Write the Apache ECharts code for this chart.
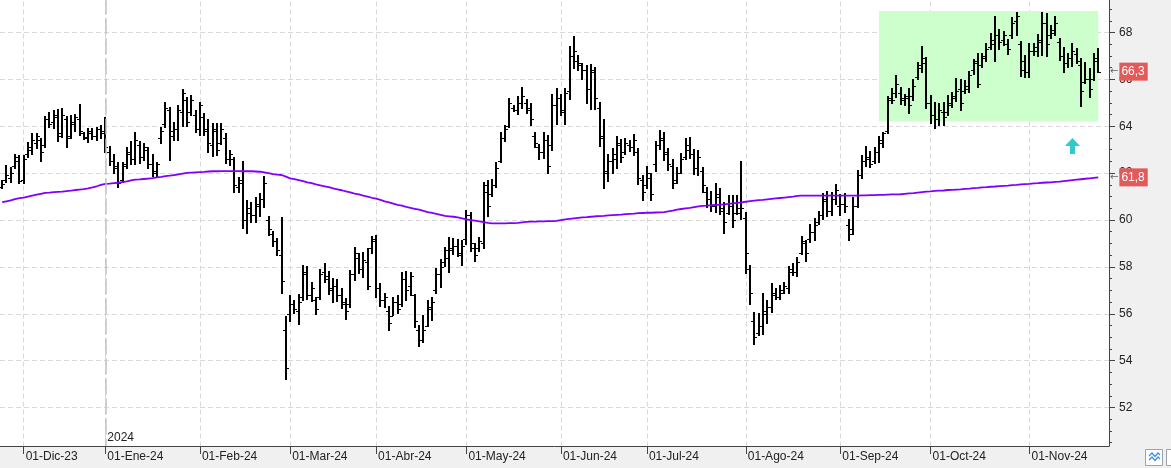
<!DOCTYPE html>
<html><head><meta charset="utf-8">
<script src="https://cdn.jsdelivr.net/npm/echarts@6/dist/echarts.min.js"></script>
<style>html,body{margin:0;padding:0;background:#fff}#c{width:1171px;height:468px}</style>
</head><body><div id="c"></div>
<script>
// ---- calendar / tick labels ----
const monthAbbr = ['Ene','Feb','Mar','Abr','May','Jun','Jul','Ago','Sep','Oct','Nov','Dic'];
const marketHolidays = ['2023-12-25','2023-12-26','2024-01-01','2024-03-29','2024-04-01','2024-05-01'];
const firstDay = '2023-11-24';
const lastDay = '2024-11-27';
const yearLabel = '2024';
const yearStart = '2024-01-02';

// ---- OHLC values (one per trading day) ----
const opens = [
61.40,61.70,61.80,62.30,62.50,61.70,62.80,63.00,63.30,63.40,
63.20,64.30,64.20,64.40,63.70,64.30,63.60,64.10,64.30,63.70,
63.50,63.70,63.60,63.90,63.80,62.90,62.50,62.20,61.70,62.40,
62.80,62.60,63.20,62.70,63.00,62.40,62.00,63.50,64.10,64.70,
63.60,63.90,64.60,65.10,64.60,64.50,63.90,64.40,63.90,63.20,
63.80,63.30,63.50,62.60,62.60,61.40,61.60,60.00,60.30,60.20,
60.60,60.90,60.00,59.40,59.10,58.50,55.30,56.00,56.40,56.10,
56.70,57.70,56.80,56.60,56.70,57.80,57.50,57.00,57.20,56.80,
56.40,56.40,57.70,58.40,57.90,58.20,58.80,59.20,57.10,56.60,
56.10,55.90,56.50,56.40,57.50,57.20,56.80,55.30,54.90,55.50,
56.20,57.00,57.70,58.20,58.40,58.70,58.90,58.50,59.20,60.20,
58.80,58.80,59.00,61.20,61.10,61.50,62.50,63.50,64.00,64.80,
64.70,65.00,65.00,64.80,63.60,63.10,62.90,63.40,63.20,64.90,
65.20,64.60,65.50,67.00,66.80,66.60,66.40,65.60,66.30,64.80,
63.50,62.00,62.50,62.60,63.20,62.90,63.20,63.10,62.90,61.70,
61.50,61.80,62.40,63.20,63.40,62.90,62.30,61.70,62.00,62.70,
63.00,62.80,62.20,62.10,61.20,60.90,60.60,61.00,60.40,60.30,
60.60,60.30,60.30,60.10,57.90,55.70,55.20,55.50,56.10,56.30,
56.90,56.70,56.90,57.10,57.90,57.80,58.60,59.00,59.20,59.50,
59.90,60.20,60.80,60.40,60.90,60.60,60.70,59.80,59.60,60.60,
61.90,62.50,62.60,62.50,62.90,63.30,63.80,65.20,65.40,65.40,
65.10,65.30,65.30,66.10,66.60,66.70,65.00,64.50,64.30,64.60,
64.60,65.00,65.20,65.60,65.50,65.70,66.40,66.80,66.60,66.90,
67.40,67.50,67.90,67.70,67.50,67.90,68.50,67.50,66.80,66.30,
67.20,67.20,67.60,68.40,67.90,68.00,67.60,67.00,66.70,66.90,
67.10,66.60,65.90,66.00,66.00,66.90];
const highs = [
61.71,62.35,62.28,62.80,62.77,62.77,63.32,63.70,63.72,63.49,
64.44,64.62,64.69,64.72,64.77,64.44,64.48,64.52,64.94,63.77,
63.94,63.94,63.98,64.05,64.38,63.16,62.80,62.49,62.49,63.13,
63.37,63.76,63.37,63.27,63.13,62.82,62.49,63.98,65.02,64.81,
64.19,64.91,65.58,65.26,65.33,64.69,65.05,64.58,64.30,64.13,
64.15,64.15,63.70,62.99,62.70,61.85,62.50,60.85,60.78,60.99,
61.17,61.89,60.17,59.54,59.25,60.14,55.91,56.80,56.59,56.83,
58.07,58.04,57.34,56.73,57.90,58.15,57.84,57.51,57.48,57.09,
56.66,57.87,58.84,58.58,58.65,58.79,59.32,59.36,57.32,56.90,
56.33,56.73,56.80,57.80,57.84,57.80,56.83,55.52,55.95,56.59,
56.70,57.94,58.32,58.86,59.26,59.22,59.18,59.15,60.43,60.36,
59.01,59.29,61.61,61.71,61.74,62.49,63.77,64.04,65.19,64.91,
65.29,65.69,65.15,65.00,63.74,63.24,63.77,63.61,65.38,65.62,
65.38,65.62,67.42,67.85,67.04,66.71,66.61,66.64,66.54,65.05,
64.30,62.82,63.09,63.59,63.44,63.49,63.41,63.67,63.06,61.92,
62.30,61.99,63.39,63.84,63.77,63.06,62.59,62.28,62.85,63.49,
63.55,63.02,62.99,62.28,61.42,61.25,61.57,61.38,60.78,61.07,
61.07,61.07,62.53,60.36,58.08,56.09,56.02,56.90,56.59,57.32,
57.09,57.23,57.37,58.04,58.18,58.44,59.32,59.15,59.83,60.07,
60.39,61.17,61.25,61.18,61.54,61.11,61.14,60.03,60.97,62.13,
62.77,63.16,62.96,63.13,63.59,63.77,65.29,65.62,66.19,65.66,
65.38,65.62,66.00,66.76,67.42,66.97,65.33,65.05,64.98,65.05,
65.33,65.47,66.05,66.00,65.97,66.37,66.86,67.14,67.14,67.56,
67.97,68.70,68.14,68.08,67.71,68.67,68.89,67.65,67.04,67.56,
67.56,67.94,68.89,68.82,68.32,68.70,67.75,67.37,67.11,67.56,
67.33,66.90,66.76,66.47,67.14,67.35];
const lows = [
61.35,61.64,61.64,62.21,61.57,61.57,62.70,62.82,63.09,62.53,
63.13,63.98,63.91,63.38,63.55,63.10,63.49,63.81,63.63,63.44,
63.34,63.44,63.41,63.49,62.91,62.34,62.02,61.42,61.64,62.21,
62.39,62.38,62.42,62.56,62.21,61.89,61.85,63.30,63.96,62.56,
63.41,63.41,64.01,64.01,64.48,63.74,63.61,63.64,62.91,62.73,
62.77,63.24,62.42,62.35,61.21,61.21,59.65,59.46,59.93,59.93,
60.17,60.54,59.36,58.89,58.51,56.90,53.22,55.71,56.05,55.56,
56.59,56.63,56.56,55.98,56.63,57.37,56.83,56.52,56.56,56.23,
55.76,56.30,57.44,57.75,57.56,57.06,58.61,56.73,56.33,56.27,
55.31,55.95,56.05,56.33,56.59,56.80,55.45,54.64,54.81,55.48,
55.73,56.90,57.13,58.04,57.80,58.54,58.47,58.08,58.98,58.69,
58.26,58.69,58.81,60.17,61.02,61.42,62.49,63.39,63.96,64.66,
64.52,64.77,64.58,64.05,63.10,62.60,62.63,61.99,62.99,64.08,
64.48,64.10,65.16,66.47,66.40,66.02,64.98,64.72,64.72,63.16,
61.35,61.68,62.02,62.21,62.49,62.82,62.96,62.77,61.54,60.85,
61.35,60.85,62.10,63.02,62.56,62.13,61.35,61.59,61.99,62.59,
62.63,61.96,61.92,61.21,60.57,60.39,60.36,60.26,59.43,60.26,
59.72,60.26,60.03,57.75,56.42,54.71,55.09,55.12,55.62,56.09,
56.62,56.62,56.87,56.90,57.65,57.61,58.55,58.26,59.07,59.15,
59.83,60.03,60.17,60.21,60.68,60.21,60.35,59.15,59.40,60.54,
61.78,62.30,62.28,62.42,62.49,63.13,63.73,64.98,65.26,64.95,
64.91,64.58,65.12,66.00,66.33,64.77,64.13,63.91,64.05,64.05,
64.48,64.81,65.09,64.69,65.43,65.47,66.23,65.66,66.51,66.80,
67.28,66.80,67.28,67.47,67.08,67.75,67.89,66.14,66.09,66.09,
67.04,66.99,67.04,66.99,67.75,67.89,66.83,66.33,66.54,66.57,
66.69,64.86,65.86,65.26,65.97,66.33];
const closes = [
61.55,61.90,62.00,62.70,61.65,62.60,63.10,63.40,63.60,62.90,
64.30,64.10,64.50,63.60,64.50,63.50,64.20,64.40,63.80,63.55,
63.80,63.60,63.90,63.70,63.10,62.50,62.30,61.60,62.30,62.90,
62.60,63.40,62.70,63.10,62.40,62.10,62.40,63.80,64.80,63.80,
63.90,64.70,65.40,64.20,65.10,63.90,64.90,63.80,63.30,63.90,
63.00,63.90,62.60,62.80,61.50,61.70,60.00,60.50,60.20,60.70,
60.90,61.60,59.60,59.10,58.70,57.40,53.70,56.40,56.20,56.50,
57.80,56.80,57.10,56.20,57.70,57.60,57.10,57.20,56.80,56.50,
56.10,57.70,58.60,57.90,58.30,57.20,59.10,57.10,56.60,56.70,
55.60,56.50,56.20,57.50,57.00,57.60,55.70,54.90,55.30,56.30,
56.50,57.70,58.00,58.70,58.80,58.90,58.60,58.90,60.20,59.00,
58.50,59.10,61.50,60.60,61.50,62.20,63.50,63.90,65.00,64.70,
65.00,65.30,64.70,64.30,63.30,62.90,63.40,62.30,64.90,65.20,
64.70,65.40,67.00,67.20,66.70,66.40,65.60,66.40,65.20,63.60,
62.10,62.50,62.80,63.30,62.70,63.30,63.10,63.40,61.80,61.20,
62.00,61.10,63.20,63.50,62.80,62.40,61.60,62.00,62.60,63.20,
62.80,62.20,62.70,61.50,60.90,60.60,61.10,60.50,59.90,60.60,
60.00,60.50,60.50,58.60,56.90,55.00,55.50,56.00,56.30,56.80,
56.70,57.00,57.20,57.80,57.80,58.20,59.10,58.60,59.50,59.80,
60.20,60.90,60.40,60.90,61.30,60.70,60.60,59.40,60.60,61.90,
62.50,62.70,62.40,62.90,63.40,63.70,65.10,65.10,65.80,65.20,
65.20,64.90,65.70,66.50,66.90,65.00,64.50,64.30,64.70,64.40,
64.90,65.30,65.50,65.00,65.60,66.20,66.70,65.80,67.00,67.30,
67.70,67.90,67.60,67.90,67.30,68.40,68.70,66.40,66.30,67.20,
67.40,67.70,68.40,67.50,68.10,68.40,67.00,66.70,66.90,67.20,
66.80,65.50,66.00,65.60,66.80,66.33];
// ---- long moving average ----
const movingAvg = [
60.76,60.80,60.84,60.89,60.93,60.96,61.00,61.04,61.08,61.12,
61.16,61.17,61.19,61.20,61.21,61.23,61.25,61.28,61.30,61.32,
61.35,61.39,61.44,61.50,61.54,61.55,61.57,61.59,61.62,61.65,
61.69,61.72,61.73,61.75,61.77,61.79,61.82,61.84,61.87,61.89,
61.92,61.95,61.98,62.01,62.02,62.03,62.04,62.05,62.07,62.08,
62.08,62.09,62.09,62.09,62.09,62.09,62.08,62.08,62.08,62.07,
62.06,62.03,62.00,61.96,61.94,61.92,61.85,61.78,61.74,61.70,
61.66,61.61,61.57,61.52,61.48,61.44,61.40,61.35,61.31,61.27,
61.22,61.18,61.13,61.09,61.04,61.00,60.95,60.91,60.86,60.80,
60.75,60.70,60.65,60.61,60.56,60.52,60.48,60.44,60.39,60.34,
60.30,60.26,60.22,60.18,60.16,60.14,60.11,60.07,60.03,60.00,
59.97,59.94,59.91,59.88,59.86,59.86,59.86,59.86,59.87,59.87,
59.88,59.90,59.92,59.93,59.93,59.94,59.94,59.95,59.95,59.96,
60.00,60.03,60.05,60.07,60.09,60.11,60.12,60.14,60.16,60.17,
60.18,60.20,60.21,60.22,60.23,60.25,60.26,60.27,60.29,60.30,
60.31,60.31,60.32,60.33,60.34,60.37,60.40,60.44,60.47,60.50,
60.52,60.55,60.58,60.60,60.61,60.63,60.64,60.66,60.67,60.69,
60.71,60.73,60.75,60.78,60.81,60.83,60.85,60.86,60.88,60.90,
60.92,60.94,60.96,60.98,61.00,61.03,61.04,61.04,61.04,61.04,
61.04,61.04,61.04,61.04,61.04,61.04,61.04,61.04,61.04,61.04,
61.05,61.05,61.06,61.06,61.07,61.07,61.08,61.09,61.09,61.10,
61.12,61.14,61.15,61.17,61.19,61.21,61.22,61.24,61.25,61.26,
61.28,61.29,61.30,61.31,61.33,61.34,61.36,61.37,61.39,61.40,
61.42,61.43,61.45,61.46,61.47,61.49,61.50,61.52,61.53,61.54,
61.56,61.57,61.59,61.60,61.61,61.63,61.64,61.66,61.68,61.70,
61.72,61.74,61.76,61.78,61.80,61.82];
// ---- annotations ----
const zoneFrom = '2024-09-13';
const zoneTo = '2024-11-25';
const zoneLow = 64.20;
const zoneHigh = 68.92;
const arrowDate = '2024-11-15';
const arrowValue = 63.16;

function buildTradingDays(start, end, holidays) {
  const out = [];
  const d = new Date(start + 'T00:00:00Z');
  const e = new Date(end + 'T00:00:00Z');
  while (d <= e) {
    const wd = d.getUTCDay();
    const s = d.toISOString().slice(0, 10);
    if (wd !== 0 && wd !== 6 && holidays.indexOf(s) < 0) out.push(s);
    d.setUTCDate(d.getUTCDate() + 1);
  }
  return out;
}
const cats = buildTradingDays(firstDay, lastDay, marketHolidays);
const ohlcData = opens.map((o, i) => [i, o, highs[i], lows[i], closes[i]]);
const maData = cats.map((c, i) => i < movingAvg.length ? movingAvg[i] : null);
const lastClose = closes[closes.length - 1];
const lastMA = movingAvg[movingAvg.length - 1];

const FONT = '"Liberation Sans", Arial, sans-serif';
const isMonthStart = (idx) => idx > 0 && cats[idx] && cats[idx].slice(0, 7) !== cats[idx - 1].slice(0, 7);
const fmtMonth = (v) => '01-' + monthAbbr[+v.slice(5, 7) - 1] + '-' + v.slice(2, 4);
const fmtNum = (v) => v.toFixed(1).replace('.', ',');

const chart = echarts.init(document.getElementById('c'), null, {renderer: 'canvas'});
const gridLine = {color: '#d9d9d9', type: [5, 3], width: 1};

const option = {
  animation: false,
  backgroundColor: '#ffffff',
  grid: [
    {left: 0, right: 62, top: -14.375, bottom: 13.58, outerBoundsMode: 'none', containLabel: false},
    {left: 0, right: 62, top: 445, height: 1, outerBoundsMode: 'none', containLabel: false}
  ],
  xAxis: [
    {type: 'category', gridIndex: 0, data: cats, boundaryGap: true, z: 0,
     axisLine: {show: false}, axisTick: {show: false}, axisLabel: {show: false},
     splitLine: {show: true, interval: isMonthStart, alignWithLabel: true, lineStyle: gridLine}},
    {type: 'category', gridIndex: 1, data: cats, boundaryGap: true, z: 8,
     axisLine: {show: true, lineStyle: {color: '#444', width: 1}},
     axisTick: {show: true, alignWithLabel: true, interval: isMonthStart, length: 8, lineStyle: {color: '#444'}},
     axisLabel: {show: true, interval: isMonthStart, formatter: fmtMonth, align: 'left', margin: 5,
                 color: '#222', fontSize: 12, fontFamily: FONT, padding: [0, 0, 0, 2], hideOverlap: false},
     splitLine: {show: false}}
  ],
  yAxis: [
    {type: 'value', gridIndex: 0, position: 'right', min: 50, max: 70, interval: 2, z: 1,
     axisLine: {show: true, lineStyle: {color: '#444', width: 1}},
     axisTick: {show: true, length: 6, lineStyle: {color: '#444'}},
     minorTick: {show: true, splitNumber: 4, length: 3, lineStyle: {color: '#444'}},
     axisLabel: {margin: 10, color: '#222', fontSize: 12, fontFamily: FONT,
                 formatter: (v) => (v <= 50 || v >= 70) ? '' : String(v)},
     splitLine: {show: true, lineStyle: gridLine}},
    {type: 'value', gridIndex: 1, show: false}
  ],
  series: [
    {
      name: 'helper', type: 'line', xAxisIndex: 0, yAxisIndex: 0, data: [], z: 2, silent: true,
      markArea: {silent: true, itemStyle: {color: '#ccffcc'},
        data: [[{xAxis: zoneFrom, yAxis: zoneLow}, {xAxis: zoneTo, yAxis: zoneHigh}]]},
      markLine: {silent: true, symbol: 'none', label: {show: false},
        lineStyle: {color: '#c2c2c2', type: [16, 4], width: 1.5},
        data: [{xAxis: yearStart}]},
      markPoint: {silent: true,
        symbol: 'path://M7.5,0 L15,8 L10,8 L10,16 L5,16 L5,8 L0,8 Z',
        symbolSize: [15, 16], symbolKeepAspect: false,
        itemStyle: {color: '#35c9cc'}, label: {show: false},
        data: [{coord: [arrowDate, arrowValue]}]}
    },
    {
      name: 'ohlc', type: 'custom', xAxisIndex: 0, yAxisIndex: 0, z: 3, silent: true,
      data: ohlcData, encode: {x: 0, y: [1, 2, 3, 4]},
      renderItem: function (params, api) {
        const i = api.value(0);
        const px = Math.round(api.coord([i, api.value(2)])[0]);
        const yh = Math.round(api.coord([i, api.value(2)])[1]);
        const yl = Math.round(api.coord([i, api.value(3)])[1]);
        const yo = Math.round(api.coord([i, api.value(1)])[1]) + 0.5;
        const yc = Math.round(api.coord([i, api.value(4)])[1]) + 0.5;
        return {type: 'group', children: [
          {type: 'line', shape: {x1: px, y1: yh, x2: px, y2: yl + 1}, style: {stroke: '#000', lineWidth: 2}},
          {type: 'line', shape: {x1: px - 3, y1: yo, x2: px, y2: yo}, style: {stroke: '#000', lineWidth: 1}},
          {type: 'line', shape: {x1: px, y1: yc, x2: px + 3, y2: yc}, style: {stroke: '#000', lineWidth: 1}}
        ]};
      }
    },
    {
      name: 'MA', type: 'line', xAxisIndex: 0, yAxisIndex: 0, data: maData, z: 4, silent: true,
      showSymbol: false, symbol: 'none', connectNulls: false, clip: false,
      lineStyle: {color: '#8000ff', width: 1.8},
      markLine: {silent: true, symbol: 'none', lineStyle: {color: 'rgba(255,255,255,0)', width: 1, opacity: 1},
        label: {show: true, position: 'end', distance: 1, fontFamily: FONT,
          rich: {
            a: {color: '#666', fontSize: 10, fontFamily: 'DejaVu Sans', padding: [0, 1, 0, 0]},
            b: {backgroundColor: '#e35a5a', color: '#fff', fontSize: 12, fontFamily: FONT, padding: [3, 3, 3, 2]}
          }},
        data: [
          {yAxis: lastClose, label: {formatter: '{a|←}{b|' + fmtNum(lastClose) + '}'}},
          {yAxis: lastMA, label: {formatter: '{a|←}{b|' + fmtNum(lastMA) + '}'}}
        ]}
    }
  ],
  graphic: [
    {type: 'rect', z: 0, silent: true, shape: {x: 1110, y: 0, width: 61, height: 468}, style: {fill: '#f0f0f0'}},
    {type: 'rect', z: 6, silent: true, shape: {x: 0, y: 446.5, width: 1171, height: 22}, style: {fill: '#f0f0f0'}},
    {type: 'rect', z: 9, silent: true, shape: {x: 1145.5, y: 449.5, width: 17, height: 16}, style: {fill: '#fff', stroke: '#9aa4ad', lineWidth: 1}},
    {type: 'polyline', z: 9, silent: true, shape: {points: [[1149,456],[1152,453],[1155,456.5],[1158,453],[1160,455]]}, style: {stroke: '#3b8de0', lineWidth: 1.2, fill: null}},
    {type: 'polyline', z: 9, silent: true, shape: {points: [[1149,460],[1152,457],[1155,460.5],[1158,457],[1160,459]]}, style: {stroke: '#3b8de0', lineWidth: 1.2, fill: null}},
    {type: 'rect', z: 9, silent: true, shape: {x: 1166.5, y: 449.5, width: 10, height: 16}, style: {fill: '#fff', stroke: '#9aa4ad', lineWidth: 1}}
  ]
};
chart.setOption(option);

const janX = chart.convertToPixel({xAxisIndex: 0}, yearStart);
chart.setOption({graphic: option.graphic.concat([
  {type: 'text', z: 7, silent: true, x: janX + 2, y: 438,
   style: {text: yearLabel, fill: '#222', font: '12px ' + FONT, textVerticalAlign: 'middle', textAlign: 'left'}}
])});
</script>
</body></html>
